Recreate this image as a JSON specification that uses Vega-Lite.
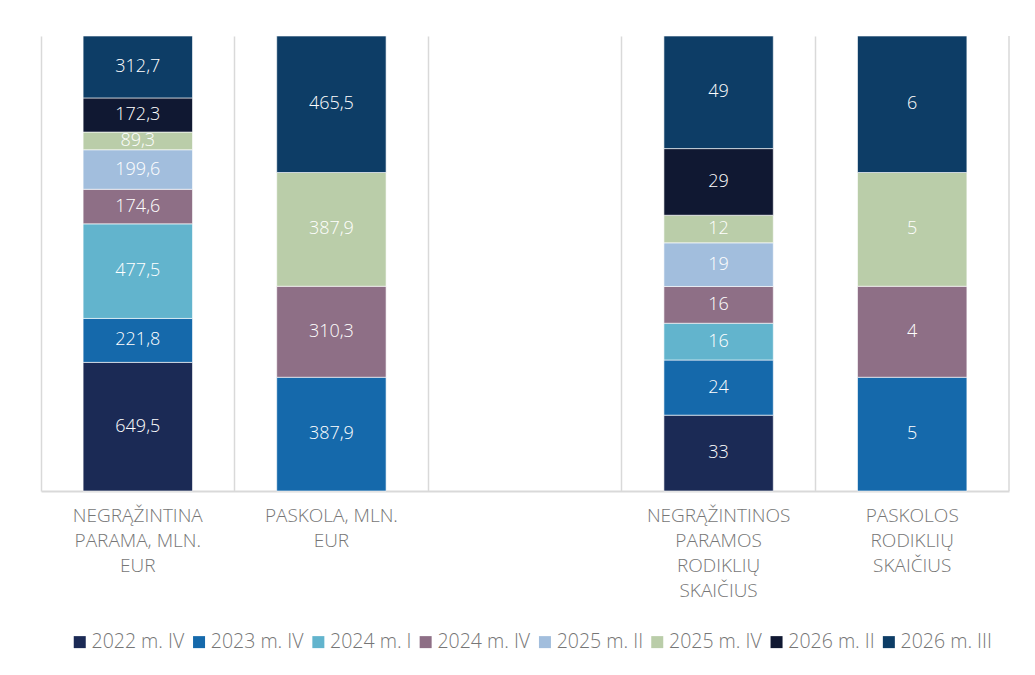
{
  "$schema": "https://vega.github.io/schema/vega-lite/v6.json",
  "width": 968,
  "height": 455,
  "padding": {"left": 41, "top": 35, "right": 26, "bottom": 5},
  "autosize": {"type": "pad"},
  "background": "white",
  "config": {
    "view": {"stroke": null},
    "font": "Open Sans",
    "locale": {"number": {"decimal": ",", "thousands": " ", "grouping": [3], "currency": ["", " €"]}}
  },
  "data": {
    "values": [
      {"kat": "NEGRĄŽINTINA PARAMA, MLN. EUR", "laik": "2022 m. IV", "v": 649.5},
      {"kat": "NEGRĄŽINTINA PARAMA, MLN. EUR", "laik": "2023 m. IV", "v": 221.8},
      {"kat": "NEGRĄŽINTINA PARAMA, MLN. EUR", "laik": "2024 m. I", "v": 477.5},
      {"kat": "NEGRĄŽINTINA PARAMA, MLN. EUR", "laik": "2024 m. IV", "v": 174.6},
      {"kat": "NEGRĄŽINTINA PARAMA, MLN. EUR", "laik": "2025 m. II", "v": 199.6},
      {"kat": "NEGRĄŽINTINA PARAMA, MLN. EUR", "laik": "2025 m. IV", "v": 89.3},
      {"kat": "NEGRĄŽINTINA PARAMA, MLN. EUR", "laik": "2026 m. II", "v": 172.3},
      {"kat": "NEGRĄŽINTINA PARAMA, MLN. EUR", "laik": "2026 m. III", "v": 312.7},
      {"kat": "PASKOLA, MLN. EUR", "laik": "2023 m. IV", "v": 387.9},
      {"kat": "PASKOLA, MLN. EUR", "laik": "2024 m. IV", "v": 310.3},
      {"kat": "PASKOLA, MLN. EUR", "laik": "2025 m. IV", "v": 387.9},
      {"kat": "PASKOLA, MLN. EUR", "laik": "2026 m. III", "v": 465.5},
      {"kat": "NEGRĄŽINTINOS PARAMOS RODIKLIŲ SKAIČIUS", "laik": "2022 m. IV", "v": 33},
      {"kat": "NEGRĄŽINTINOS PARAMOS RODIKLIŲ SKAIČIUS", "laik": "2023 m. IV", "v": 24},
      {"kat": "NEGRĄŽINTINOS PARAMOS RODIKLIŲ SKAIČIUS", "laik": "2024 m. I", "v": 16},
      {"kat": "NEGRĄŽINTINOS PARAMOS RODIKLIŲ SKAIČIUS", "laik": "2024 m. IV", "v": 16},
      {"kat": "NEGRĄŽINTINOS PARAMOS RODIKLIŲ SKAIČIUS", "laik": "2025 m. II", "v": 19},
      {"kat": "NEGRĄŽINTINOS PARAMOS RODIKLIŲ SKAIČIUS", "laik": "2025 m. IV", "v": 12},
      {"kat": "NEGRĄŽINTINOS PARAMOS RODIKLIŲ SKAIČIUS", "laik": "2026 m. II", "v": 29},
      {"kat": "NEGRĄŽINTINOS PARAMOS RODIKLIŲ SKAIČIUS", "laik": "2026 m. III", "v": 49},
      {"kat": "PASKOLOS RODIKLIŲ SKAIČIUS", "laik": "2023 m. IV", "v": 5},
      {"kat": "PASKOLOS RODIKLIŲ SKAIČIUS", "laik": "2024 m. IV", "v": 4},
      {"kat": "PASKOLOS RODIKLIŲ SKAIČIUS", "laik": "2025 m. IV", "v": 5},
      {"kat": "PASKOLOS RODIKLIŲ SKAIČIUS", "laik": "2026 m. III", "v": 6}
    ]
  },
  "encoding": {
    "x": {
      "field": "kat",
      "type": "nominal",
      "sort": null,
      "scale": {
        "domain": ["NEGRĄŽINTINA PARAMA, MLN. EUR", "PASKOLA, MLN. EUR", " ", "NEGRĄŽINTINOS PARAMOS RODIKLIŲ SKAIČIUS", "PASKOLOS RODIKLIŲ SKAIČIUS"],
        "paddingInner": 0,
        "paddingOuter": 0
      },
      "axis": {
        "title": null,
        "bandPosition": 0,
        "ticks": false,
        "grid": true,
        "gridColor": "#d9d9d9",
        "gridWidth": 1.5,
        "domainColor": "#d9d9d9",
        "domainWidth": 2,
        "labelAngle": 0,
        "labelFont": "Open Sans",
        "labelFontSize": 19,
        "labelFontWeight": 300,
        "labelColor": "#767676",
        "labelPadding": 15,
        "labelBaseline": "top",
        "labelLineHeight": 25,
        "labelOverlap": false,
        "labelLimit": 300,
        "labelExpr": "datum.value == 'NEGRĄŽINTINA PARAMA, MLN. EUR' ? ['NEGRĄŽINTINA','PARAMA, MLN.','EUR'] : datum.value == 'PASKOLA, MLN. EUR' ? ['PASKOLA, MLN.','EUR'] : datum.value == 'NEGRĄŽINTINOS PARAMOS RODIKLIŲ SKAIČIUS' ? ['NEGRĄŽINTINOS','PARAMOS','RODIKLIŲ','SKAIČIUS'] : datum.value == 'PASKOLOS RODIKLIŲ SKAIČIUS' ? ['PASKOLOS','RODIKLIŲ','SKAIČIUS'] : ''"
      }
    }
  },
  "layer": [
    {
      "mark": {"type": "bar", "width": {"band": 0.565}, "stroke": "white", "strokeWidth": 0.6},
      "encoding": {
        "y": {"field": "v", "type": "quantitative", "stack": "normalize", "axis": null},
        "order": {"field": "laik", "sort": "ascending"},
        "color": {
          "field": "laik",
          "type": "nominal",
          "scale": {
            "domain": ["2022 m. IV", "2023 m. IV", "2024 m. I", "2024 m. IV", "2025 m. II", "2025 m. IV", "2026 m. II", "2026 m. III"],
            "range": ["#1b2a55", "#1569ab", "#62b4cd", "#8e6f86", "#a2bedd", "#bacda9", "#101832", "#0d3d66"]
          },
          "legend": {
            "title": null,
            "orient": "none",
            "legendX": 29,
            "legendY": 596,
            "direction": "horizontal",
            "columns": 8,
            "symbolType": "square",
            "symbolSize": 144,
            "symbolStrokeWidth": 0,
            "labelFont": "Open Sans",
            "labelFontSize": 19.5,
            "labelFontWeight": 300,
            "labelColor": "#767676",
            "labelOffset": 2,
            "columnPadding": 4.3
          }
        }
      }
    },
    {
      "mark": {"type": "text", "color": "white", "fontSize": 18, "fontWeight": 300, "font": "Open Sans"},
      "encoding": {
        "y": {"field": "v", "type": "quantitative", "stack": "normalize", "bandPosition": 0.5},
        "order": {"field": "laik", "sort": "ascending"},
        "detail": {"field": "laik", "type": "nominal"},
        "text": {"field": "v", "type": "quantitative", "format": "~r"}
      }
    },
    {
      "data": {"values": [{}]},
      "mark": {"type": "rule", "color": "#d9d9d9", "strokeWidth": 1.5},
      "encoding": {"x": {"datum": "PASKOLOS RODIKLIŲ SKAIČIUS", "bandPosition": 1}}
    }
  ]
}
